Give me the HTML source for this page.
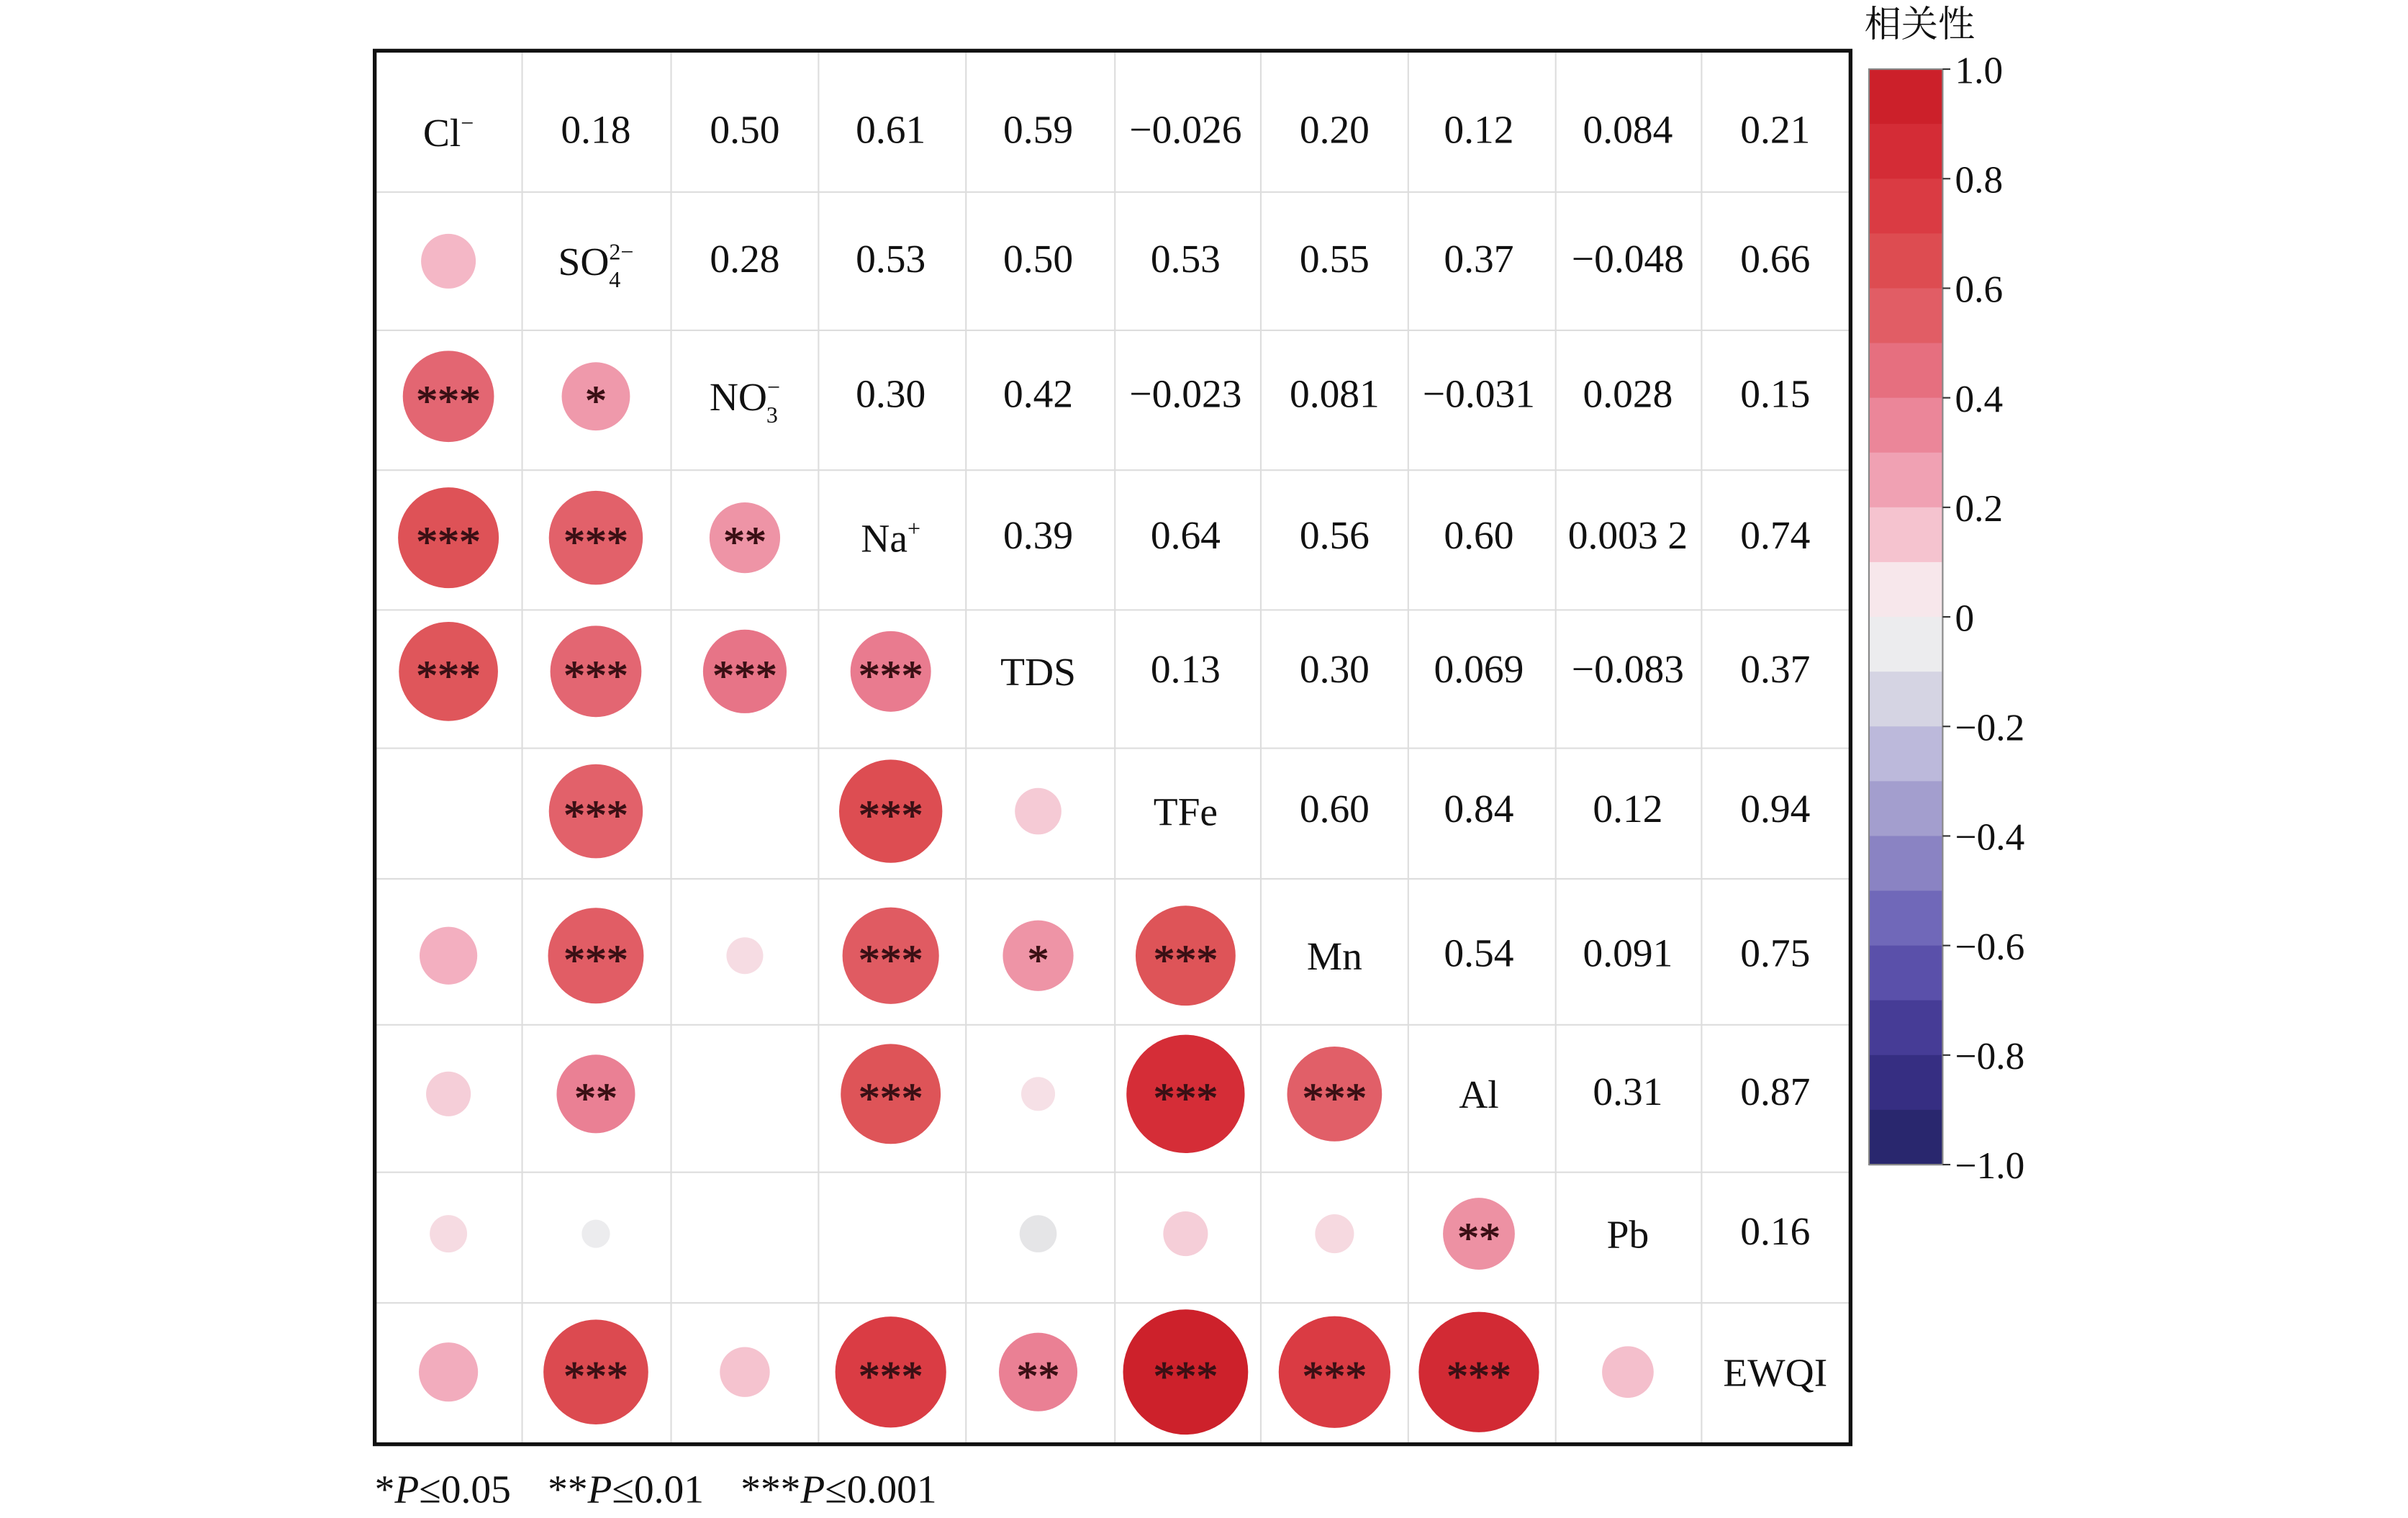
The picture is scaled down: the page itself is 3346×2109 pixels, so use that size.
<!DOCTYPE html>
<html><head><meta charset="utf-8"><style>html,body{margin:0;padding:0;background:#fff}svg{display:block}</style></head>
<body>
<svg width="3346" height="2109" viewBox="0 0 1568 988" preserveAspectRatio="none" xmlns="http://www.w3.org/2000/svg" font-family="'Liberation Serif','Noto Serif CJK SC',serif">
<rect width="1568" height="988" fill="#fff"/>
<g id="grid" stroke="#ddd" stroke-width="1"></g>
<g id="circ"></g>
<g id="txt" font-size="26" fill="#111" text-anchor="middle"></g>
<rect x="244" y="33" width="961" height="907" fill="none" stroke="#111" stroke-width="2.5"/>
<g id="cbar"></g>
<text x="1250" y="24" font-size="24" text-anchor="middle" fill="#111">相关性</text>
<text x="244" y="978" font-size="26" fill="#111">*<tspan font-style="italic">P</tspan>≤0.05<tspan dx="24">**</tspan><tspan font-style="italic">P</tspan>≤0.01<tspan dx="24">***</tspan><tspan font-style="italic">P</tspan>≤0.001</text>
</svg>
<script>
const NS="http://www.w3.org/2000/svg";
function el(t,a,p,txt){const e=document.createElementNS(NS,t);for(const k in a)e.setAttribute(k,a[k]);if(txt!=null)e.textContent=txt;document.getElementById(p).appendChild(e);return e;}
const ce=[244,340,437,533,629,726,821,917,1013,1108,1205];
const re=[33,125,215,306,397,487,572,667,763,848,940];
const cx=[292,388,485,580,676,772,869,963,1060,1156];
const cy=[86,170,258,350,437,528,622,712,803,893];
for(let i=1;i<10;i++){el('line',{x1:ce[i],y1:33,x2:ce[i],y2:940},'grid');el('line',{x1:244,y1:re[i],x2:1205,y2:re[i]},'grid');}
const U=[
[null,.18,.50,.61,.59,-.026,.20,.12,.084,.21],
[0,null,.28,.53,.50,.53,.55,.37,-.048,.66],
[0,0,null,.30,.42,-.023,.081,-.031,.028,.15],
[0,0,0,null,.39,.64,.56,.60,.0032,.74],
[0,0,0,0,null,.13,.30,.069,-.083,.37],
[0,0,0,0,0,null,.60,.84,.12,.94],
[0,0,0,0,0,0,null,.54,.091,.75],
[0,0,0,0,0,0,0,null,.31,.87],
[0,0,0,0,0,0,0,0,null,.16]];
const names=['Cl','SO4','NO3','Na','TDS','TFe','Mn','Al','Pb','EWQI'];
const stars={"2,0":"***","2,1":"*","3,0":"***","3,1":"***","3,2":"**","4,0":"***","4,1":"***","4,2":"***","4,3":"***","5,1":"***","5,3":"***","6,1":"***","6,3":"***","6,4":"*","6,5":"***","7,1":"**","7,3":"***","7,5":"***","7,6":"***","8,7":"**","9,1":"***","9,3":"***","9,4":"**","9,5":"***","9,6":"***","9,7":"***"};
function col(v){
 const pos=[[0,[247,247,247]],[.1,[246,214,222]],[.2,[243,175,192]],[.4,[232,120,140]],[.6,[222,84,88]],[.8,[216,50,60]],[1,[200,26,36]]];
 const neg=[[0,[247,247,247]],[.1,[225,225,228]],[.2,[200,198,225]],[.4,[150,145,200]],[.6,[100,90,180]],[.8,[60,50,140]],[1,[35,35,100]]];
 const a=Math.abs(v), s=v<0?neg:pos;
 for(let i=1;i<s.length;i++){if(a<=s[i][0]){const f=(a-s[i-1][0])/(s[i][0]-s[i-1][0]);const c=s[i-1][1].map((x,k)=>Math.round(x+(s[i][1][k]-x)*f));return 'rgb('+c.join(',')+')';}}
 return 'rgb('+s[s.length-1][1].join(',')+')';
}
const fmt=v=>{if(v===.0032)return'0.003 2';let s=String(v);let neg=false;if(s.startsWith('-')){neg=true;s=s.slice(1);}if(s.startsWith('.'))s='0'+s;if(/\.\d$/.test(s))s+='0';return (neg?'−':'')+s;};
for(let i=0;i<10;i++)for(let j=0;j<10;j++){
 if(i===j){
  const t=el('text',{x:cx[j],y:cy[i]+9},'txt');
  if(i===0)t.innerHTML='Cl<tspan dy="-10" font-size="15">−</tspan>';
  else if(i===1)t.innerHTML='SO<tspan dy="-10" font-size="15">2−</tspan><tspan dx="-16" dy="18" font-size="15">4</tspan>';
  else if(i===2)t.innerHTML='NO<tspan dy="-10" font-size="15">−</tspan><tspan dx="-9" dy="18" font-size="15">3</tspan>';
  else if(i===3)t.innerHTML='Na<tspan dy="-10" font-size="15">+</tspan>';
  else t.textContent=names[i];
 } else if(j>i){
  el('text',{x:cx[j],y:cy[i]+7},'txt',fmt(U[i][j]));
 } else {
  const v=U[j][i];
  if(Math.abs(v)<0.035)continue;
  const r=42*Math.sqrt(Math.abs(v));
  el('circle',{cx:cx[j],cy:cy[i],r:r,fill:col(v)},'circ');
  const s=stars[i+','+j];
  if(s)el('text',{x:cx[j],y:cy[i]+12,'font-size':28,fill:'#3a1015','stroke':'#3a1015','stroke-width':0.5},'txt',s);
 }
}
const x0=1217,w=48,y0=45,y1=758,n=20,h=(y1-y0)/n;
for(let k=0;k<n;k++){const v=1-(k+.5)*2/n;el('rect',{x:x0,y:y0+k*h,width:w,height:h+0.5,fill:col(v)},'cbar');}
el('rect',{x:x0,y:y0,width:w,height:y1-y0,fill:'none',stroke:'#888','stroke-width':1},'cbar');
const ticks=['1.0','0.8','0.6','0.4','0.2','0','−0.2','−0.4','−0.6','−0.8','−1.0'];
ticks.forEach((t,k)=>{const y=y0+k*(y1-y0)/10;el('line',{x1:x0+w,y1:y,x2:x0+w+5,y2:y,stroke:'#333'},'cbar');el('text',{x:1273,y:y+9,'font-size':25,fill:'#111'},'cbar',t);});
</script>
</body></html>
